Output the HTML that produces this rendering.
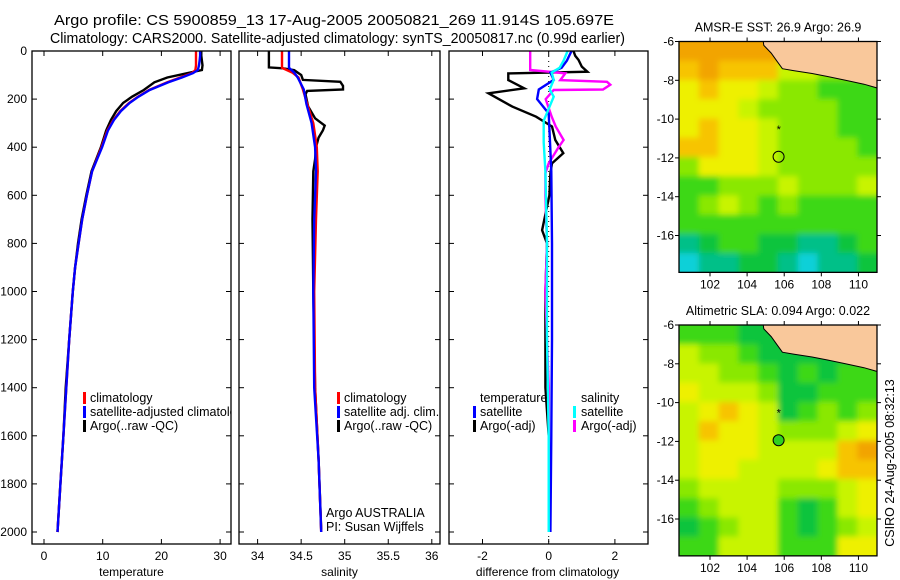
<!DOCTYPE html>
<html><head><meta charset="utf-8"><style>
html,body{margin:0;padding:0;background:#fff}
svg{display:block;font-family:"Liberation Sans",sans-serif}
</style></head><body>
<svg id="chart" width="900" height="580" viewBox="0 0 900 580" xmlns="http://www.w3.org/2000/svg">
<rect x="0" y="0" width="900" height="580" fill="#fff"/>
<text x="54" y="25" font-size="14.5" textLength="560" lengthAdjust="spacingAndGlyphs">Argo profile: CS 5900859_13 17-Aug-2005 20050821_269 11.914S 105.697E</text>
<text x="50" y="43" font-size="14.5" textLength="575" lengthAdjust="spacingAndGlyphs">Climatology: CARS2000. Satellite-adjusted climatology: synTS_20050817.nc (0.99d earlier)</text>
<g id="layer"></g>
</svg>
<script>
// ---------- data ----------
const depthTicks = [0,200,400,600,800,1000,1200,1400,1600,1800,2000];
const tempTicks = [0,10,20,30];
const salTicks = [34,34.5,35,35.5,36];
const salTickLabels = ["34","34.5","35","35.5","36"];
const diffTicks = [-2,0,2];

const tDepth = [0,20,40,60,79,92,110,130,162,190,216,250,287,330,400,500,600,700,800,900,1000,1200,1400,1600,1800,2000];
const tClim  = [25.9,25.9,25.9,25.9,25.8,25.2,23.2,21,17.9,16,14.5,13,11.8,10.8,9.8,8.2,7.3,6.5,5.9,5.3,4.9,4.3,3.8,3.3,2.8,2.3];
const tSat   = [26.6,26.6,26.5,26.4,26.2,25.4,23.5,21.2,18,16.1,14.6,13.1,11.9,10.9,9.9,8.2,7.3,6.5,5.9,5.3,4.9,4.3,3.8,3.3,2.8,2.3];
const tArgo  = [26.8,26.8,26.9,27,26.9,24.5,21,18.8,17,15,13.5,12.3,11.4,10.6,9.7,8.1,7.2,6.4,5.8,5.3,4.9,4.3,3.7,3.3,2.8,2.3];

const sClimDepth = [0,70,90,110,160,220,300,400,500,700,1000,1400,1700,2000];
const sClim = [34.28,34.28,34.4,34.47,34.52,34.57,34.64,34.68,34.69,34.67,34.65,34.66,34.7,34.73];
const sSat  = [34.36,34.36,34.42,34.46,34.53,34.56,34.62,34.66,34.67,34.65,34.64,34.65,34.7,34.73];
const sArgoDepth = [0,68,72,80,100,120,128,145,160,166,180,230,280,310,330,360,400,450,500,700,1000,1400,1700,1990];
const sArgo = [34.13,34.13,34.29,34.42,34.5,34.52,34.95,34.98,34.98,34.57,34.55,34.58,34.66,34.77,34.75,34.7,34.67,34.66,34.64,34.63,34.64,34.66,34.7,34.73];

const dTDepth = [0,20,37,65,86,93,121,155,176,231,273,314,370,425,467,508,600,745,800,1000,1400,1600,2000];
const dTArgo  = [0.75,0.8,0.9,1.0,1.17,-1.22,-1.22,-0.74,-1.82,-1.1,-0.38,0.1,0.2,0.44,0.1,0.05,0.02,-0.2,-0.05,-0.1,-0.1,0,0];
const dSArgoDepth = [0,79,86,93,121,128,140,160,162,200,273,314,370,400,467,508,600,800,1000,1400,2000];
const dSArgo = [-0.56,-0.56,0,0.5,0.35,1.76,1.86,1.64,0.15,-0.09,0.09,0.21,0.45,0.3,0.0,-0.1,-0.1,-0.05,-0.1,0,0];
const dTSatDepth = [0,40,70,90,120,160,200,260,350,500,800,1200,1600,2000];
const dTSat = [0.69,0.55,0.39,0.05,0.15,-0.3,-0.35,0,0.03,0.08,0.1,0.1,0.08,0.05];
const dSSatDepth = [0,40,70,90,120,160,190,230,290,380,500,800,1200,1600,2000];
const dSSat = [0.57,0.45,0.33,0.09,0.15,0.03,0.15,0.03,-0.15,-0.15,-0.1,-0.05,-0.05,0,0];

const latTicks = [-6,-8,-10,-12,-14,-16];
const lonTicks = [102,104,106,108,110];
const sstGrid = [
 "OOOOOOoooo","oOoooyyLLG","YoYYyLLGGG","YYYyLLLLGG","YoYYyLLLGG","ooYYyLLLLG",
 "LYYYyLLLLL","GGLLLyLLLy","GLyLGLGGGG","GGGGGGGGGG","TgGGggTTgG","CTTggTCTTg"];
const slaGrid = [
 "GGGggggggg","yLLGgggggg","yyLLGgGgGG","YyyyLggGGG","yYoYygGLGL","yoYYyLLLyY",
 "yYYYyyyyoO","yYYyyyyYoo","LyyyyLLLyY","GLyyyGgGyY","gGLyyGgGLy","GGyyyGGGYY"];
const argoLon = 105.697, argoLat = -11.914;

// ---------- helpers ----------
const NS = "http://www.w3.org/2000/svg";
const layer = document.getElementById('layer');
function mk(tag, attrs, parent){ const e=document.createElementNS(NS,tag); for(const k in attrs) e.setAttribute(k,attrs[k]); (parent||layer).appendChild(e); return e; }
function txt(x,y,s,size,anchor,parent){ const t=mk('text',{x:x,y:y,'font-size':size,'text-anchor':anchor||'start'},parent); t.textContent=s; return t; }

const TOP=51, BOT=544;
const yD = d => 51 + d*0.2405;
const xT = t => 44 + 5.87*t;
const xS = s => 257.6 + 87.1*(s-34);
const xDf = v => 548.7 + 33.1*v;

const panels = [
 {x0:32,x1:231,scale:xT,ticks:tempTicks,labels:tempTicks.map(String),title:'temperature',name:'temperature-panel'},
 {x0:239,x1:440,scale:xS,ticks:salTicks,labels:salTickLabels,title:'salinity',name:'salinity-panel'},
 {x0:449,x1:648,scale:xDf,ticks:diffTicks,labels:diffTicks.map(String),title:'difference from climatology',name:'difference-panel'}
];
panels.forEach((p,i)=>{
  const g=mk('g',{});
  
  
  const clip=mk('clipPath',{id:'clip'+i},g);
  mk('rect',{x:p.x0,y:TOP,width:p.x1-p.x0,height:BOT-TOP},clip);
  p.g=mk('g',{'clip-path':'url(#clip'+i+')'},g);
  const fr=mk('rect',{x:p.x0,y:TOP,width:p.x1-p.x0,height:BOT-TOP,fill:'none',stroke:'#000','stroke-width':1.3},g);
  
  
  depthTicks.forEach(d=>{
    mk('line',{x1:p.x0,x2:p.x0+5,y1:yD(d),y2:yD(d),stroke:'#000'},g);
    mk('line',{x1:p.x1-5,x2:p.x1,y1:yD(d),y2:yD(d),stroke:'#000'},g);
  });
  p.ticks.forEach((v,j)=>{
    const x=p.scale(v);
    mk('line',{x1:x,x2:x,y1:BOT-5,y2:BOT,stroke:'#000'},g);
    mk('line',{x1:x,x2:x,y1:TOP,y2:TOP+5,stroke:'#000'},g);
    const t=txt(x,560,p.labels[j],12,'middle',g);
    
    
  });
  const at=txt((p.x0+p.x1)/2+ (i==2?-1:0),576,p.title,12,'middle',g);
  
  
});
depthTicks.forEach(d=>{
  const t=txt(27,yD(d)+4,String(d),12,'end');
  
  
});

function line(p, depths, vals, color, name){
  const pts=depths.map((d,i)=>p.scale(vals[i]).toFixed(1)+','+yD(d).toFixed(1)).join(' ');
  const l=mk('polyline',{points:pts,fill:'none',stroke:color,'stroke-width':2.4,'stroke-linejoin':'miter'},p.g);
  
  
}
line(panels[0],tDepth,tArgo,'#000','temperature-argo-line');
line(panels[0],tDepth,tClim,'#f00','temperature-climatology-line');
line(panels[0],tDepth,tSat,'#00f','temperature-satellite-line');
line(panels[1],sArgoDepth,sArgo,'#000','salinity-argo-line');
line(panels[1],sClimDepth,sClim,'#f00','salinity-climatology-line');
line(panels[1],sClimDepth,sSat,'#00f','salinity-satellite-line');
mk('line',{x1:xDf(0),x2:xDf(0),y1:TOP,y2:BOT,stroke:'#000','stroke-dasharray':'1,4'},panels[2].g);
line(panels[2],dTDepth,dTArgo,'#000','temperature-diff-argo-line');
line(panels[2],dSArgoDepth,dSArgo,'#f0f','salinity-diff-argo-line');
line(panels[2],dTSatDepth,dTSat,'#00f','temperature-diff-satellite-line');
line(panels[2],dSSatDepth,dSSat,'#0ff','salinity-diff-satellite-line');

function legend(p, mx, tx, y, color, label, name){
  const g=mk('g',{},p.g);
  
  
  if(color) mk('rect',{x:mx,y:y-10,width:3,height:12,fill:color},g);
  txt(tx,y,label,12.5,'start',g);
}
const rows=[402,416,430];
legend(panels[0],83,90,rows[0],'#f00','climatology','legend-climatology');
legend(panels[0],83,90,rows[1],'#00f','satellite-adjusted climatology','legend-satellite-adjusted');
legend(panels[0],83,90,rows[2],'#000','Argo(..raw -QC)','legend-argo');
legend(panels[1],337,344,rows[0],'#f00','climatology','legend-climatology');
legend(panels[1],337,344,rows[1],'#00f','satellite adj. clim.','legend-satellite-adj');
legend(panels[1],337,344,rows[2],'#000','Argo(..raw -QC)','legend-argo');
legend(panels[1],0,326,517,null,'Argo AUSTRALIA','institution-label');
legend(panels[1],0,326,531,null,'PI: Susan Wijffels','pi-label');
legend(panels[2],0,480,rows[0],null,'temperature','legend-temperature-header');
legend(panels[2],473,480,rows[1],'#00f','satellite','legend-temperature-satellite');
legend(panels[2],473,480,rows[2],'#000','Argo(-adj)','legend-temperature-argo');
legend(panels[2],0,581,rows[0],null,'salinity','legend-salinity-header');
legend(panels[2],573,581,rows[1],'#0ff','satellite','legend-salinity-satellite');
legend(panels[2],573,581,rows[2],'#f0f','Argo(-adj)','legend-salinity-argo');

// ---------- maps ----------
const pal={O:'#f2a400',o:'#f7c400',Y:'#eef000',y:'#c8f400',L:'#8ae800',G:'#3cd818',g:'#10c43c',T:'#00c088',C:'#10d0d8'};
const MX0=679, MX1=877, LON0=100.33, LON1=111.0;
const xL = lon => MX0 + (lon-LON0)*(MX1-MX0)/(LON1-LON0);
const coast=[[104.8,-5.5],[104.9,-6.2],[105.3,-6.6],[105.6,-7.0],[105.9,-7.4],[106.5,-7.5],[107.5,-7.65],[108.3,-7.8],[109.3,-8.0],[110.3,-8.2],[111.2,-8.45],[111.2,-5.5]];
function makeMap(top, grid, title, name, circleFill, idx){
  const yM = lat => top + (-6-lat)*19.4;
  const bot = yM(-17.9);
  const g=mk('g',{});
  
  
  const clip=mk('clipPath',{id:'mclip'+idx},g);
  mk('rect',{x:MX0,y:top,width:MX1-MX0,height:bot-top},clip);
  const filt=mk('filter',{id:'mblur'+idx,x:'-10%',y:'-10%',width:'120%',height:'120%'},g);
  mk('feGaussianBlur',{stdDeviation:3},filt);
  const cg=mk('g',{'clip-path':'url(#mclip'+idx+')'},g);
  const fg=mk('g',{filter:'url(#mblur'+idx+')'},cg);
  const nr=grid.length, nc=grid[0].length;
  const cw=(MX1-MX0)/nc, ch=(bot-top)/nr;
  for(let r=-1;r<=nr;r++) for(let c=-1;c<=nc;c++){
    const rr=Math.min(nr-1,Math.max(0,r)), cc=Math.min(nc-1,Math.max(0,c));
    const cell=mk('rect',{x:MX0+c*cw,y:top+r*ch,width:cw+0.5,height:ch+0.5,fill:pal[grid[rr][cc]]},fg);
    
    
  }
  const land=mk('polygon',{points:coast.map(p=>xL(p[0]).toFixed(1)+','+yM(p[1]).toFixed(1)).join(' '),fill:'#f9c89b',stroke:'#000','stroke-width':1},cg);
  
  
  const px=xL(argoLon), py=yM(argoLat);
  const circ=mk('circle',{cx:px,cy:py+0.5,r:5.5,fill:circleFill,stroke:'#000','stroke-width':1},cg);
  
  
  const star=txt(px-2,yM(-10.5)+4,'*',11,'start',cg);
  
  
  mk('rect',{x:MX0,y:top,width:MX1-MX0,height:bot-top,fill:'none',stroke:'#000','stroke-width':1.3},g);
  latTicks.forEach(l=>{
    const y=yM(l);
    mk('line',{x1:MX0-4,x2:MX0,y1:y,y2:y,stroke:'#000'},g);
    mk('line',{x1:MX1,x2:MX1+4,y1:y,y2:y,stroke:'#000'},g);
    const t=txt(MX0-5,y+4,String(l),12,'end',g);
    
    
  });
  lonTicks.forEach(l=>{
    const x=xL(l);
    mk('line',{x1:x,x2:x,y1:bot,y2:bot+4,stroke:'#000'},g);
    mk('line',{x1:x,x2:x,y1:top-4,y2:top,stroke:'#000'},g);
    const t=txt(x,bot+16,String(l),12,'middle',g);
    
    
  });
  const tt=txt((MX0+MX1)/2,top-10,title,12.5,'middle',g);
  
  
}
makeMap(41.5, sstGrid, 'AMSR-E SST: 26.9 Argo: 26.9', 'sst-map', 'none', 1);
makeMap(325, slaGrid, 'Altimetric SLA: 0.094 Argo: 0.022', 'sla-map', '#30d020', 2);

const stamp=txt(0,0,'CSIRO 24-Aug-2005 08:32:13',12.5,'middle');
stamp.setAttribute('transform','translate(894,463) rotate(-90)');


</script>
</body></html>
